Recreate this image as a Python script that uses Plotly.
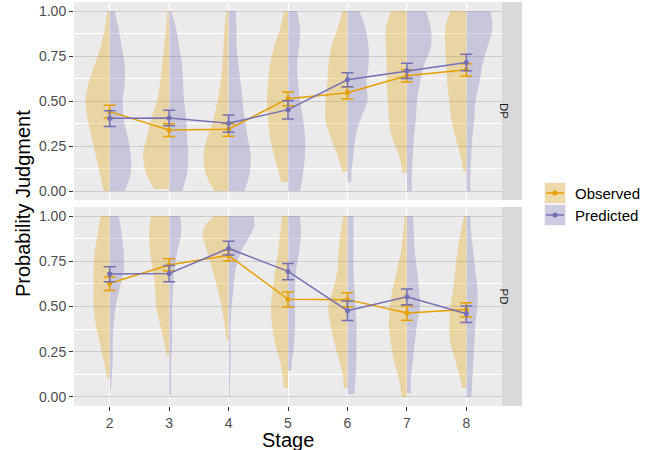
import plotly.graph_objects as go

# ---------------- data ----------------
STAGES = [2, 3, 4, 5, 6, 7, 8]
PANELS = ["DP", "PD"]
GROUPS = ["Observed", "Predicted"]
Y_TICKS = [0, 0.25, 0.5, 0.75, 1.0]
Y_TICK_LABELS = ["0.00", "0.25", "0.50", "0.75", "1.00"]

# means and error-bar limits (one value per stage)
DP_OBS_MEAN = [0.441, 0.339, 0.343, 0.513, 0.546, 0.640, 0.673]
DP_OBS_LO = [0.406, 0.303, 0.304, 0.474, 0.511, 0.605, 0.637]
DP_OBS_HI = [0.476, 0.373, 0.373, 0.550, 0.579, 0.673, 0.707]
DP_PRED_MEAN = [0.404, 0.406, 0.376, 0.452, 0.618, 0.668, 0.714]
DP_PRED_LO = [0.358, 0.362, 0.327, 0.400, 0.579, 0.625, 0.668]
DP_PRED_HI = [0.446, 0.448, 0.422, 0.502, 0.657, 0.710, 0.760]
PD_OBS_MEAN = [0.628, 0.729, 0.783, 0.540, 0.538, 0.464, 0.483]
PD_OBS_LO = [0.589, 0.696, 0.751, 0.497, 0.497, 0.424, 0.442]
PD_OBS_HI = [0.663, 0.764, 0.812, 0.580, 0.576, 0.503, 0.521]
PD_PRED_MEAN = [0.680, 0.683, 0.821, 0.694, 0.477, 0.554, 0.460]
PD_PRED_LO = [0.637, 0.637, 0.785, 0.648, 0.422, 0.510, 0.411]
PD_PRED_HI = [0.720, 0.726, 0.860, 0.737, 0.530, 0.597, 0.503]

# violin density outlines per stage: [judgment value, density]
DP_OBS_DENSITY = [
    [[0, 6], [0.1, 10], [0.2, 14], [0.3, 18], [0.4, 22], [0.5, 24], [0.6, 21], [0.7, 15], [0.8, 9], [0.9, 5], [1.0, 2.3]],
    [[0.011, 15], [0.1, 23], [0.2, 26], [0.3, 22], [0.4, 18], [0.5, 12], [0.6, 9], [0.7, 7], [0.8, 5], [0.9, 3], [1.0, 1.7]],
    [[0, 14], [0.1, 23], [0.2, 25], [0.3, 21], [0.4, 15], [0.5, 11], [0.6, 8], [0.7, 6], [0.8, 5], [0.9, 4], [1.0, 2]],
    [[0.048, 7], [0.1, 9], [0.2, 14], [0.3, 18], [0.4, 20], [0.5, 21], [0.6, 20], [0.7, 18], [0.8, 14], [0.9, 8], [1.0, 4]],
    [[0.109, 5], [0.2, 10], [0.3, 17], [0.4, 22], [0.5, 22], [0.6, 20], [0.7, 19], [0.8, 16], [0.9, 10], [1.0, 5]],
    [[0.10, 4], [0.2, 8], [0.3, 15], [0.4, 18], [0.5, 19], [0.6, 20], [0.7, 20], [0.8, 21], [0.9, 21], [1.0, 16]],
    [[0.11, 3], [0.2, 6], [0.3, 11], [0.4, 15], [0.5, 17], [0.6, 19], [0.7, 20], [0.8, 21], [0.9, 21], [1.0, 16]],
]
DP_PRED_DENSITY = [
    [[0, 15], [0.1, 21], [0.2, 21], [0.3, 18], [0.4, 14], [0.5, 13], [0.6, 15], [0.7, 15], [0.8, 12], [0.9, 9], [1.0, 5]],
    [[0, 13], [0.1, 18], [0.2, 19], [0.3, 18], [0.4, 17], [0.5, 15], [0.6, 14], [0.7, 13], [0.8, 10], [0.9, 7], [1.0, 2]],
    [[0, 16], [0.1, 21], [0.2, 22], [0.3, 19], [0.4, 16], [0.5, 14], [0.6, 12], [0.7, 10], [0.8, 8], [0.9, 8], [1.0, 7]],
    [[0, 12], [0.1, 15], [0.2, 17], [0.3, 17], [0.4, 15], [0.5, 12], [0.6, 10], [0.7, 9], [0.8, 11], [0.9, 12], [1.0, 9]],
    [[0.048, 4], [0.1, 4], [0.2, 6], [0.3, 8], [0.4, 13], [0.5, 20], [0.6, 19], [0.7, 21], [0.8, 21], [0.9, 18], [1.0, 12]],
    [[0, 5], [0.1, 5], [0.2, 6], [0.3, 7], [0.4, 9], [0.5, 10], [0.6, 13], [0.7, 17], [0.8, 24], [0.9, 24], [1.0, 19]],
    [[0, 4], [0.1, 4], [0.2, 5], [0.3, 6], [0.4, 8], [0.5, 9], [0.6, 13], [0.7, 16], [0.8, 21], [0.9, 26], [1.0, 24]],
]
PD_OBS_DENSITY = [
    [[0.10, 2], [0.2, 6], [0.3, 10], [0.4, 14], [0.5, 16], [0.6, 16], [0.7, 16], [0.8, 15], [0.9, 12], [1.0, 9]],
    [[0.228, 2], [0.3, 5], [0.4, 9], [0.5, 13], [0.6, 14], [0.7, 16], [0.8, 19], [0.9, 20], [1.0, 18]],
    [[0.31, 2], [0.4, 4], [0.5, 7], [0.6, 11], [0.7, 16], [0.8, 21], [0.85, 24], [0.9, 26], [0.95, 23], [1.0, 14]],
    [[0.05, 4], [0.1, 5], [0.2, 8], [0.3, 13], [0.4, 16], [0.5, 17], [0.6, 15], [0.7, 13], [0.8, 10], [0.9, 8], [1.0, 6]],
    [[0.05, 4], [0.1, 4], [0.2, 8], [0.3, 13], [0.4, 17], [0.5, 19], [0.6, 14], [0.7, 10], [0.8, 9], [0.9, 7], [1.0, 4]],
    [[0, 5], [0.1, 8], [0.2, 13], [0.3, 16], [0.4, 18], [0.5, 17], [0.6, 14], [0.7, 10], [0.8, 6], [0.9, 4], [1.0, 2]],
    [[0.05, 4], [0.1, 6], [0.2, 11], [0.3, 16], [0.4, 17], [0.5, 16], [0.6, 13], [0.7, 11], [0.8, 9], [0.9, 6], [1.0, 2]],
]
PD_PRED_DENSITY = [
    [[0.035, 1], [0.1, 2], [0.2, 3], [0.3, 3], [0.4, 4], [0.5, 6], [0.6, 10], [0.7, 14], [0.8, 14], [0.9, 12], [1.0, 9]],
    [[0.011, 2], [0.1, 2], [0.2, 2], [0.3, 3], [0.4, 3], [0.5, 3], [0.6, 4], [0.7, 5], [0.8, 8], [0.9, 12], [1.0, 11]],
    [[0, 1], [0.2, 2], [0.4, 2], [0.5, 3], [0.6, 5], [0.7, 7], [0.8, 12], [0.85, 17], [0.9, 22], [0.95, 26], [1.0, 25]],
    [[0.145, 3], [0.2, 4], [0.3, 6], [0.4, 7], [0.5, 7], [0.6, 7], [0.7, 8], [0.8, 11], [0.9, 13], [1.0, 12]],
    [[0.015, 7], [0.1, 8], [0.2, 9], [0.3, 9], [0.4, 9], [0.5, 8], [0.6, 7], [0.7, 6], [0.8, 6], [0.9, 6], [1.0, 6]],
    [[0.02, 4], [0.1, 4], [0.2, 6], [0.3, 8], [0.4, 10], [0.5, 13], [0.6, 12], [0.7, 10], [0.8, 8], [0.9, 7], [1.0, 6]],
    [[0, 5], [0.1, 6], [0.2, 7], [0.3, 8], [0.4, 9], [0.5, 11], [0.6, 11], [0.7, 9], [0.8, 7], [0.9, 5], [1.0, 4]],
]

# ---------------- styling ----------------
W, H = 651, 450
FONT = "Liberation Sans, Arial, sans-serif"
COL = {"Observed": "#E69F00", "Predicted": "#7570B3"}
FILL = {"Observed": "rgba(230,159,0,0.3)", "Predicted": "rgba(117,112,179,0.3)"}
DENS_SCALE = 1.0 / 59.3  # density units -> stage units
PANEL_BG = "#EBEBEB"


def px_x(px):
    return px / W


def px_y(py):
    return 1 - py / H


X_DOMAIN = [px_x(74), px_x(502)]
Y_DOMAINS = {"DP": [px_y(200), px_y(2)], "PD": [px_y(406), px_y(207)]}
AX = {"DP": ("x", "y"), "PD": ("x2", "y2")}

fig = go.Figure()

density = {
    ("DP", "Observed"): DP_OBS_DENSITY, ("DP", "Predicted"): DP_PRED_DENSITY,
    ("PD", "Observed"): PD_OBS_DENSITY, ("PD", "Predicted"): PD_PRED_DENSITY,
}
stats = {
    ("DP", "Observed"): (DP_OBS_MEAN, DP_OBS_LO, DP_OBS_HI),
    ("DP", "Predicted"): (DP_PRED_MEAN, DP_PRED_LO, DP_PRED_HI),
    ("PD", "Observed"): (PD_OBS_MEAN, PD_OBS_LO, PD_OBS_HI),
    ("PD", "Predicted"): (PD_PRED_MEAN, PD_PRED_LO, PD_PRED_HI),
}

# split violins
for panel in PANELS:
    xa, ya = AX[panel]
    for group in GROUPS:
        sign = -1 if group == "Observed" else 1
        for stage, prof in zip(STAGES, density[(panel, group)]):
            ys = [p[0] for p in prof]
            ws = [p[1] for p in prof]
            fig.add_trace(go.Scatter(
                x=[stage] * len(ys), y=ys, mode="lines", line=dict(width=0, color="rgba(0,0,0,0)"),
                xaxis=xa, yaxis=ya, showlegend=False, hoverinfo="skip"))
            fig.add_trace(go.Scatter(
                x=[stage + sign * w * DENS_SCALE for w in ws], y=ys, mode="lines",
                line=dict(width=0, shape="spline", smoothing=1.0, color="rgba(0,0,0,0)"),
                fill="tonextx", fillcolor=FILL[group],
                xaxis=xa, yaxis=ya, showlegend=False, hoverinfo="skip"))

# mean lines, error bars, points
for panel in PANELS:
    xa, ya = AX[panel]
    for group in GROUPS:
        mean, lo, hi = stats[(panel, group)]
        fig.add_trace(go.Scatter(
            x=STAGES, y=mean, mode="lines+markers",
            line=dict(color=COL[group], width=1.5),
            marker=dict(color=COL[group], size=5),
            error_y=dict(type="data", symmetric=False,
                         array=[h - m for h, m in zip(hi, mean)],
                         arrayminus=[m - l for m, l in zip(mean, lo)],
                         color=COL[group], thickness=1.5, width=6),
            xaxis=xa, yaxis=ya, showlegend=False, hoverinfo="skip"))

shapes = []
annotations = []

# strips
for panel in PANELS:
    d = Y_DOMAINS[panel]
    shapes.append(dict(type="rect", xref="paper", yref="paper", x0=px_x(502), x1=px_x(522),
                       y0=d[0], y1=d[1], fillcolor="#D9D9D9", line=dict(width=0), layer="below"))
    annotations.append(dict(xref="paper", yref="paper", x=px_x(512), y=(d[0] + d[1]) / 2,
                            text=panel, showarrow=False, textangle=90,
                            font=dict(family=FONT, size=11.5, color="#1A1A1A")))

# legend (manual, ggplot-style keys)
for i, group in enumerate(GROUPS):
    top = 182 + i * 22
    shapes.append(dict(type="rect", xref="paper", yref="paper", x0=px_x(544), x1=px_x(566),
                       y0=px_y(top + 22), y1=px_y(top), fillcolor="#F2F2F2", line=dict(width=0)))
    shapes.append(dict(type="rect", xref="paper", yref="paper", x0=px_x(545), x1=px_x(565),
                       y0=px_y(top + 21), y1=px_y(top + 1), fillcolor=FILL[group], line=dict(width=0)))
    cy = top + 11
    shapes.append(dict(type="line", xref="paper", yref="paper", x0=px_x(546), x1=px_x(564),
                       y0=px_y(cy), y1=px_y(cy), line=dict(color=COL[group], width=1.5)))
    shapes.append(dict(type="circle", xref="paper", yref="paper", x0=px_x(552.5), x1=px_x(557.5),
                       y0=px_y(cy + 2.5), y1=px_y(cy - 2.5), fillcolor=COL[group],
                       line=dict(width=0)))
    annotations.append(dict(xref="paper", yref="paper", x=px_x(573), y=px_y(cy), xanchor="left",
                            yanchor="middle", text=group, showarrow=False,
                            font=dict(family=FONT, size=15, color="#000000")))

# axis titles
annotations.append(dict(xref="paper", yref="paper", x=px_x(288), y=px_y(440), text="Stage",
                        showarrow=False, xanchor="center", yanchor="middle",
                        font=dict(family=FONT, size=20, color="#000000")))
annotations.append(dict(xref="paper", yref="paper", x=px_x(23), y=px_y(204),
                        text="Probability Judgment", showarrow=False, textangle=-90,
                        xanchor="center", yanchor="middle",
                        font=dict(family=FONT, size=20, color="#000000")))

xcommon = dict(domain=X_DOMAIN, range=[1.4, 8.6], tickvals=STAGES, showgrid=True,
               gridcolor="#FFFFFF", gridwidth=1.1, zeroline=False, showline=False,
               fixedrange=True)
ycommon = dict(range=[-0.05, 1.05], tickvals=Y_TICKS, ticktext=Y_TICK_LABELS,
               showgrid=True, gridcolor="#CCCCCC", gridwidth=1.1, zeroline=False,
               showline=False, ticks="outside", ticklen=4, tickwidth=1, tickcolor="#333333",
               tickfont=dict(family=FONT, size=14, color="#4D4D4D"),
               minor=dict(tickvals=[0.125, 0.375, 0.625, 0.875], showgrid=True,
                          gridcolor="#FFFFFF", gridwidth=0.6, ticks=""),
               fixedrange=True)

fig.update_layout(
    width=W, height=H,
    margin=dict(l=0, r=0, t=0, b=0, autoexpand=False),
    paper_bgcolor="#FFFFFF", plot_bgcolor=PANEL_BG,
    showlegend=False, hovermode=False,
    xaxis=dict(xcommon, anchor="y", showticklabels=False, ticks=""),
    xaxis2=dict(xcommon, anchor="y2", showticklabels=True, ticks="outside", ticklen=4,
                tickwidth=1, tickcolor="#333333",
                tickfont=dict(family=FONT, size=14, color="#4D4D4D")),
    yaxis=dict(ycommon, domain=Y_DOMAINS["DP"], anchor="x"),
    yaxis2=dict(ycommon, domain=Y_DOMAINS["PD"], anchor="x2"),
    shapes=shapes, annotations=annotations,
)

fig.write_html("out.html", config={"displayModeBar": False},
               post_script="document.body.style.margin='0';document.body.style.overflow='hidden';")
